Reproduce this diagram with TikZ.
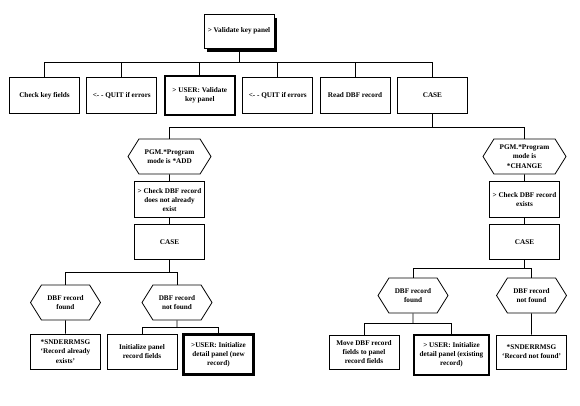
\documentclass[tikz,border=0pt]{standalone}
\usepackage{fontspec}
\setmainfont{Liberation Serif}
\usetikzlibrary{positioning,shapes.symbols,shadows}
\tikzset{
  task/.style={draw,fill=white,align=center,line width=0.8pt,
    minimum width=70pt,minimum height=36pt,inner sep=1pt,
    font=\fontsize{7.2}{9.2}\selectfont\bfseries},
  usertask/.style={task,line width=2.2pt,minimum height=39pt},
  rootbox/.style={task,minimum height=34pt,
    drop shadow={shadow xshift=3pt,shadow yshift=-3.5pt,fill=black,opacity=1}},
  cond/.style={signal,signal to=east and west,signal pointer angle=116,
    draw,fill=white,align=center,line width=0.8pt,
    minimum width=70pt,minimum height=35pt,inner sep=1pt,
    font=\fontsize{7.2}{9.2}\selectfont\bfseries},
  link/.style={draw,line width=0.8pt}
}
\begin{document}
\begin{tikzpicture}[x=1pt,y=-1pt,node distance=6.5pt]
  \useasboundingbox (0,0) rectangle (580,405);
  % top level
  \node[rootbox] (root) at (239,31) {> Validate key panel};
  \node[task] (keys) at (44.5,95.5) {Check key fields};
  \node[task,right=of keys] (quit1) {<- - QUIT if errors};
  \node[usertask,right=of quit1] (uval) {> USER: Validate\\key panel};
  \node[task,right=of uval] (quit2) {<- - QUIT if errors};
  \node[task,right=of quit2] (readdbf) {Read DBF record};
  \node[task,right=of readdbf] (case0) {CASE};
  \coordinate (bus0) at (239,62);
  \draw[link] (root) -- (bus0);
  \foreach \n in {keys,quit1,uval,quit2,readdbf,case0}
    \draw[link] (bus0) -| (\n.north);

  % *ADD branch
  \node[cond,minimum width=83pt] (addmode) at (169.5,156.5) {PGM.*Program\\mode is *ADD};
  \node[task,below=7pt of addmode] (chkadd) {> Check DBF record\\does not already\\exist};
  \node[task,below=6pt of chkadd,minimum height=35pt] (caseadd) {CASE};
  % *CHANGE branch
  \node[cond,minimum width=83pt] (chgmode) at (524.5,156.5) {PGM.*Program\\mode is\\*CHANGE};
  \node[task,below=7pt of chgmode] (chkchg) {> Check DBF record\\exists};
  \node[task,below=6pt of chkchg,minimum height=35pt] (casechg) {CASE};
  \coordinate (bus1) at (case0.center |- 0,127);
  \draw[link] (case0) -- (bus1);
  \draw[link] (bus1) -| (addmode.north);
  \draw[link] (bus1) -| (chgmode.north);
  \draw[link] (addmode) -- (chkadd) -- (caseadd);
  \draw[link] (chgmode) -- (chkchg) -- (casechg);

  % outcomes of *ADD
  \node[cond] (foundA) at (65.5,302.5) {DBF record\\found};
  \node[cond] (nfA) at (177,302.5) {DBF record\\not found};
  \node[task,minimum height=35pt] (sndA) at (65.5,351.5) {*SNDERRMSG\\`Record already\\exists'};
  \node[task,minimum height=35pt] (initA) at (142,351.5) {Initialize panel\\record fields};
  \node[usertask,minimum height=40pt] (userA) at (218.5,354.5) {>USER: Initialize\\detail panel (new\\record)};
  \coordinate (bus2) at (169.5,272);
  \coordinate (bus3) at (177,327);
  \draw[link] (caseadd) -- (bus2);
  \draw[link] (bus2) -| (foundA.north);
  \draw[link] (bus2) -| (nfA.north);
  \draw[link] (foundA) -- (sndA);
  \draw[link] (nfA) -- (bus3);
  \draw[link] (bus3) -| (initA.north);
  \draw[link] (bus3) -| (userA.north);

  % outcomes of *CHANGE
  \node[cond] (foundB) at (413,295.5) {DBF record\\found};
  \node[cond] (nfB) at (531.5,295.5) {DBF record\\not found};
  \node[task,minimum height=34pt] (moveB) at (364,352) {Move DBF record\\fields to panel\\record fields};
  \node[usertask,minimum width=75pt,minimum height=40pt] (userB) at (451.5,355) {> USER: Initialize\\detail panel (existing\\record)};
  \node[task,minimum height=34pt] (sndB) at (531.5,352) {*SNDERRMSG\\`Record not found'};
  \coordinate (bus4) at (524.5,268);
  \coordinate (bus5) at (413,323);
  \draw[link] (casechg) -- (bus4);
  \draw[link] (bus4) -| (foundB.north);
  \draw[link] (bus4) -| (nfB.north);
  \draw[link] (nfB) -- (sndB);
  \draw[link] (foundB) -- (bus5);
  \draw[link] (bus5) -| (moveB.north);
  \draw[link] (bus5) -| (userB.north);
\end{tikzpicture}
\end{document}
